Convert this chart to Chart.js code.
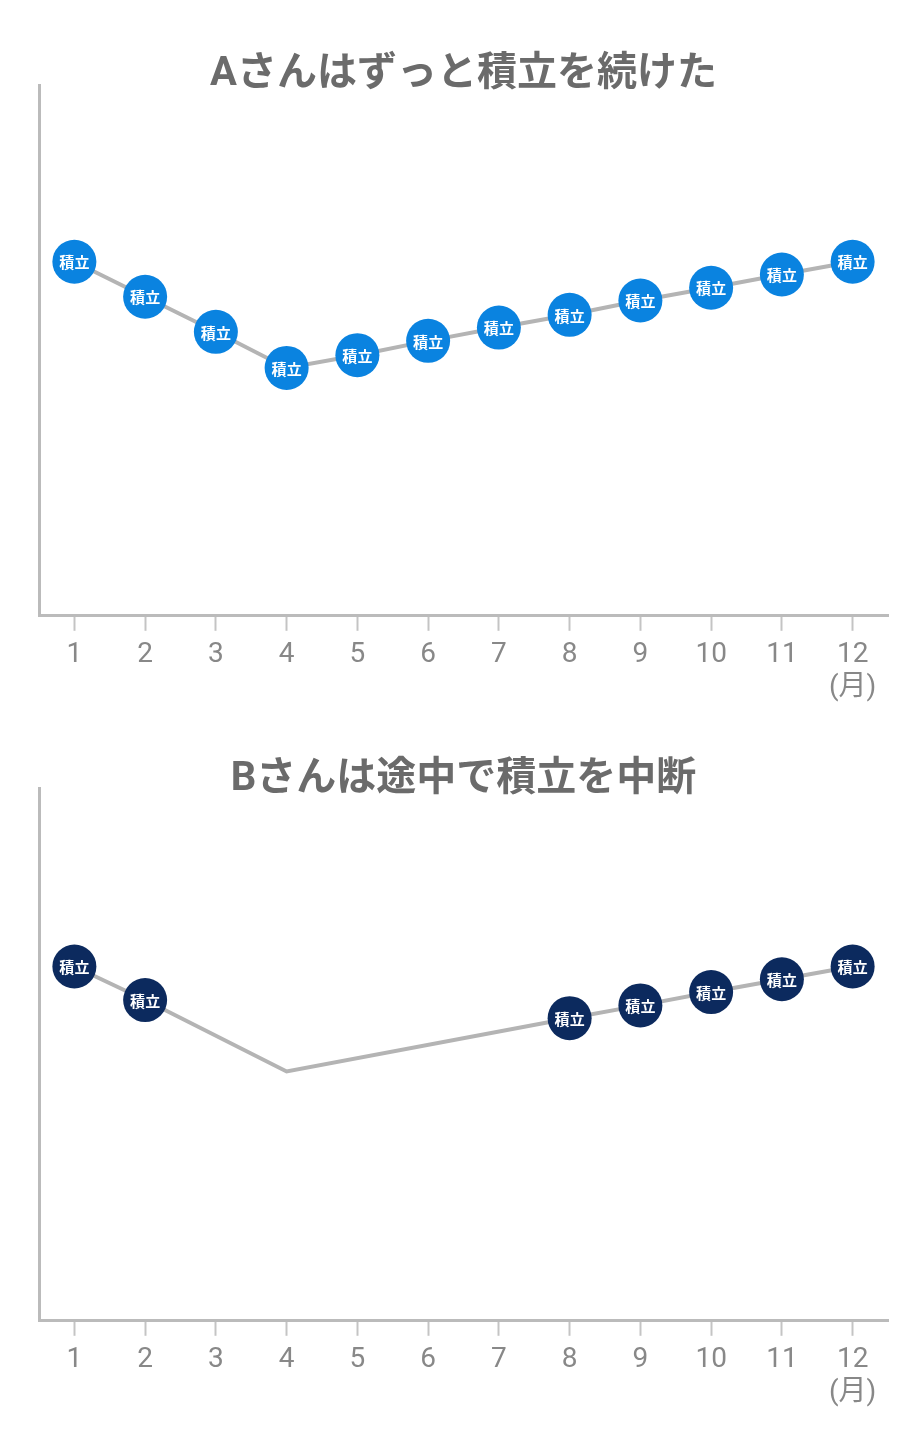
<!DOCTYPE html>
<html lang="ja">
<head>
<meta charset="utf-8">
<script src="https://cdn.jsdelivr.net/npm/chart.js@4/dist/chart.umd.min.js"></script>
<style>
  html, body { margin: 0; padding: 0; background: #fff; }
  .wrap { position: absolute; left: 0; width: 920px; height: 706px; }
  #w1 { top: 0; }
  #w2 { top: 706px; }
</style>
</head>
<body>
<div class="wrap" id="w1"><canvas id="c1" width="920" height="706"></canvas></div>
<div class="wrap" id="w2"><canvas id="c2" width="920" height="706"></canvas></div>
<script>
// ---- data ----
const months = ['1','2','3','4','5','6','7','8','9','10','11','12'];
const monthUnit = '(月)';
const markerText = '積立';

const titleA = 'Aさんはずっと積立を続けた';
const valuesA = [66.7, 60.1, 53.5, 46.7, 49.1, 51.8, 54.3, 56.7, 59.4, 61.8, 64.3, 66.7];
const savedA  = [1,1,1,1,1,1,1,1,1,1,1,1];

const titleB = 'Bさんは途中で積立を中断';
const valuesB = [66.5, 60.2, null, 46.8, null, null, null, 56.8, 59.2, 61.7, 64.1, 66.5];
const savedB  = [1,1,0,0,0,0,0,1,1,1,1,1];

// ---- helpers ----
const labels = months.map((m, i) => i === months.length - 1 ? [m, monthUnit] : m);

const markerPlugin = {
  id: 'markerText',
  afterDatasetsDraw(chart) {
    const ctx = chart.ctx;
    chart.data.datasets.forEach((ds, di) => {
      const meta = chart.getDatasetMeta(di);
      meta.data.forEach((pt, i) => {
        if (!ds.saved[i] || ds.data[i] == null) return;
        ctx.save();
        ctx.fillStyle = '#ffffff';
        ctx.font = 'bold 15px "Noto Sans CJK JP", sans-serif';
        ctx.textAlign = 'center';
        ctx.textBaseline = 'middle';
        ctx.fillText(markerText, pt.x, pt.y + 1);
        ctx.restore();
      });
    });
  }
};

function makeChart(id, title, values, saved, color, titlePadTop, titleLH, padBottom) {
  return new Chart(document.getElementById(id), {
    type: 'line',
    data: {
      labels: labels,
      datasets: [{
        data: values,
        saved: saved,
        borderColor: '#b4b4b4',
        borderWidth: 4,
        spanGaps: true,
        tension: 0,
        clip: false,
        pointRadius: saved.map(s => s ? 22 : 0),
        pointHoverRadius: saved.map(s => s ? 22 : 0),
        pointBackgroundColor: color,
        pointBorderWidth: 0,
        pointHoverBorderWidth: 0
      }]
    },
    options: {
      responsive: false,
      animation: false,
      events: [],
      layout: { padding: { left: 39, right: 32, top: 0, bottom: padBottom } },
      plugins: {
        legend: { display: false },
        tooltip: { enabled: false },
        title: {
          display: true,
          text: title,
          color: '#6b6b6b',
          font: { family: 'Roboto, "Noto Sans CJK JP", sans-serif', size: 40, weight: 'bold', lineHeight: titleLH },
          padding: { top: titlePadTop, bottom: 0 }
        }
      },
      scales: {
        x: {
          type: 'category',
          offset: true,
          grid: { display: true, drawOnChartArea: false, drawTicks: true, tickLength: 15, tickColor: '#c4c4c4', tickWidth: 2 },
          border: { display: true, color: '#bbbbbb', width: 3 },
          ticks: {
            color: '#888888',
            padding: 7,
            maxRotation: 0,
            autoSkip: false,
            font: { family: 'Roboto, "Noto Sans CJK JP", sans-serif', size: 28, lineHeight: 1.2 }
          }
        },
        y: {
          min: 0,
          max: 100,
          grid: { display: false, drawTicks: false },
          border: { display: true, color: '#bbbbbb', width: 3 },
          ticks: { display: false },
          afterFit(scale) { scale.width = 0; }
        }
      }
    },
    plugins: [markerPlugin]
  });
}

makeChart('c1', titleA, valuesA, savedA, '#0a83e0', 65, 0.5, -6);
makeChart('c2', titleB, valuesB, savedB, '#0c2a5e', 66, 0.4, -5);
</script>
</body>
</html>
